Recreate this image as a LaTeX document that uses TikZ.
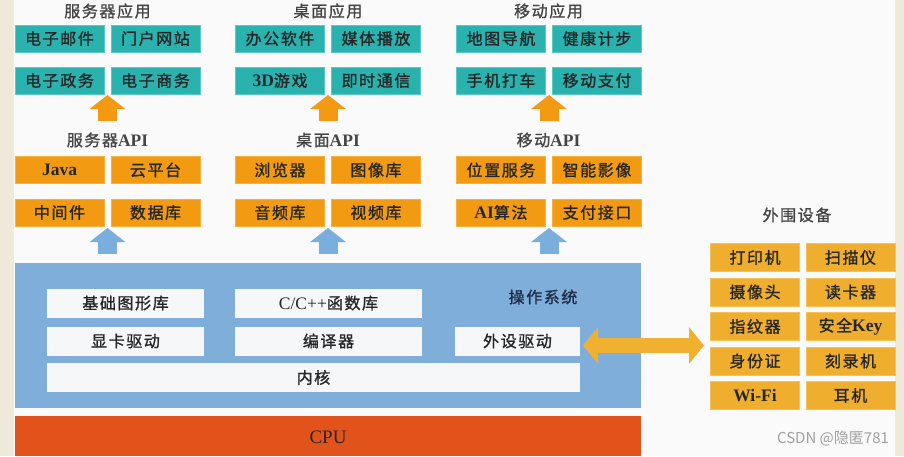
\documentclass[tikz,border=0pt]{standalone}
\usepackage{fontspec}
\newfontfamily\cjk[LetterSpace=10,FakeBold=1.2]{Noto Sans CJK SC}
\newfontfamily\wmfont{Noto Sans CJK SC}
\newfontfamily\latf{Liberation Serif}
\usetikzlibrary{arrows.meta}
\definecolor{bgc}{HTML}{F9FAF9}
\definecolor{beige}{HTML}{EFE9DA}
\definecolor{tealc}{HTML}{29B2AE}
\definecolor{tealb}{HTML}{5CC8C3}
\definecolor{apic}{HTML}{F29B12}
\definecolor{apib}{HTML}{F5B040}
\definecolor{perc}{HTML}{F0AE2E}
\definecolor{perb}{HTML}{F5C258}
\definecolor{uporange}{HTML}{F39A12}
\definecolor{upblue}{HTML}{7AAEDD}
\definecolor{osblue}{HTML}{7FAEDB}
\definecolor{wboxc}{HTML}{F6F7F8}
\definecolor{cpuc}{HTML}{E2531B}
\definecolor{dblc}{HTML}{F0B030}
\definecolor{txtc}{HTML}{262626}
\definecolor{ttlc}{HTML}{454545}
\definecolor{oslbl}{HTML}{1E2D4A}
\definecolor{wmc}{HTML}{A0A0A0}
\newcommand{\lt}[1]{{\latf\bfseries\fontsize{17.5}{17.5}\selectfont #1}}
\tikzset{
  appbox/.style={fill=tealc, draw=tealb, line width=0.8pt, minimum width=89pt, minimum height=27pt, inner sep=0pt, text=txtc, font=\cjk\fontsize{16}{16}\selectfont},
  apibox/.style={appbox, fill=apic, draw=apib},
  perbox/.style={appbox, fill=perc, draw=perb, minimum height=28pt},
  wbox/.style={fill=wboxc, draw=none, minimum height=29pt, inner sep=0pt, text=txtc, font=\cjk\fontsize{16}{16}\selectfont},
  ttl/.style={text=ttlc, inner sep=0pt, font=\cjk\fontsize{16}{16}\selectfont},
  uparrO/.style={draw=uporange, line width=19pt, -{Triangle[width=35pt,length=14pt]}},
  uparrB/.style={draw=upblue, line width=19pt, -{Triangle[width=35pt,length=14pt]}},
  dblarr/.style={draw=dblc, line width=15pt, {Triangle[width=36pt,length=15pt]}-{Triangle[width=36pt,length=15pt]}},
}
\begin{document}
\begin{tikzpicture}[x=1pt,y=-1pt]
\useasboundingbox (0,0) rectangle (904,456);
\fill[beige] (0,0) rectangle (904,456);
\fill[bgc] (14,0) rectangle (895,456);

% application titles
\node[ttl] (tapp1) at (107.5,11) {服务器应用};
\node[ttl] (tapp2) at (328,11) {桌面应用};
\node[ttl] (tapp3) at (548.5,11) {移动应用};

% application boxes
\node[appbox] (e1) at (59.5,38.5) {电子邮件};
\node[appbox] (e2) at (155.5,38.5) {门户网站};
\node[appbox] (e3) at (59.5,80.5) {电子政务};
\node[appbox] (e4) at (155.5,80.5) {电子商务};
\node[appbox] (d1) at (280,38.5) {办公软件};
\node[appbox] (d2) at (376,38.5) {媒体播放};
\node[appbox] (d3) at (280,80.5) {\lt{3D}游戏};
\node[appbox] (d4) at (376,80.5) {即时通信};
\node[appbox] (m1) at (501,38.5) {地图导航};
\node[appbox] (m2) at (597,38.5) {健康计步};
\node[appbox] (m3) at (501,80.5) {手机打车};
\node[appbox] (m4) at (597,80.5) {移动支付};

% API titles
\node[ttl] (tapi1) at (107.5,140) {服务器\lt{API}};
\node[ttl] (tapi2) at (328,140) {桌面\lt{API}};
\node[ttl] (tapi3) at (548.5,140) {移动\lt{API}};

% API boxes
\node[apibox] (a1) at (59.5,170) {\lt{Java}};
\node[apibox] (a2) at (155.5,170) {云平台};
\node[apibox] (a3) at (59.5,212.5) {中间件};
\node[apibox] (a4) at (155.5,212.5) {数据库};
\node[apibox] (b1) at (280,170) {浏览器};
\node[apibox] (b2) at (376,170) {图像库};
\node[apibox] (b3) at (280,212.5) {音频库};
\node[apibox] (b4) at (376,212.5) {视频库};
\node[apibox] (c1) at (501,170) {位置服务};
\node[apibox] (c2) at (597,170) {智能影像};
\node[apibox] (c3) at (501,212.5) {\lt{AI}算法};
\node[apibox] (c4) at (597,212.5) {支付接口};

% orange up arrows
\coordinate (o1s) at (107.5,121); \coordinate (o1t) at (107.5,95);
\coordinate (o2s) at (328,121);   \coordinate (o2t) at (328,95);
\coordinate (o3s) at (549,121);   \coordinate (o3t) at (549,95);
\draw[uparrO] (o1s) -- (o1t);
\draw[uparrO] (o2s) -- (o2t);
\draw[uparrO] (o3s) -- (o3t);

% blue up arrows
\coordinate (u1s) at (107.5,254); \coordinate (u1t) at (107.5,228);
\coordinate (u2s) at (328,254);   \coordinate (u2t) at (328,228);
\coordinate (u3s) at (549,254);   \coordinate (u3t) at (549,228);
\draw[uparrB] (u1s) -- (u1t);
\draw[uparrB] (u2s) -- (u2t);
\draw[uparrB] (u3s) -- (u3t);

% operating system
\fill[osblue] (15,263) rectangle (641,408);
\node[wbox, minimum width=157pt] (gfx) at (125.5,303) {基础图形库};
\node[wbox, minimum width=187pt] (clib) at (328.5,303) {{\latf\fontsize{17.5}{17.5}\selectfont C/C++}函数库};
\node[wbox, minimum width=157pt] (gpu) at (125.5,341) {显卡驱动};
\node[wbox, minimum width=187pt] (comp) at (328.5,341) {编译器};
\node[wbox, minimum width=125pt] (drv) at (517.5,341) {外设驱动};
\node[wbox, minimum width=533pt] (kern) at (313.5,377.5) {内核};
\node[text=oslbl, inner sep=0pt, font=\cjk\fontsize{16}{16}\selectfont] (os) at (543,297) {操作系统};

% CPU
\fill[cpuc] (15,416) rectangle (641,456);
\node[text=txtc, inner sep=0pt, font=\latf\fontsize{19}{19}\selectfont] (cpu) at (328,437) {CPU};

% peripherals
\node[ttl] (tper) at (797,215) {外围设备};
\node[perbox] (p1) at (755,257.5) {打印机};
\node[perbox] (p2) at (850.5,257.5) {扫描仪};
\node[perbox] (p3) at (755,292) {摄像头};
\node[perbox] (p4) at (850.5,292) {读卡器};
\node[perbox] (p5) at (755,326.5) {指纹器};
\node[perbox] (p6) at (850.5,326.5) {安全\lt{Key}};
\node[perbox] (p7) at (755,361) {身份证};
\node[perbox] (p8) at (850.5,361) {刻录机};
\node[perbox] (p9) at (755,395.5) {\lt{Wi-Fi}};
\node[perbox] (p10) at (850.5,395.5) {耳机};

% double arrow
\coordinate (dl) at (583,345.5);
\coordinate (dr) at (704,345.5);
\draw[dblarr] (dl) -- (dr);

% watermark
\node[text=wmc, inner sep=0pt, font=\wmfont\fontsize{15}{15}\selectfont] (wm) at (833,439) {CSDN @隐匿781};
\end{tikzpicture}
\end{document}
